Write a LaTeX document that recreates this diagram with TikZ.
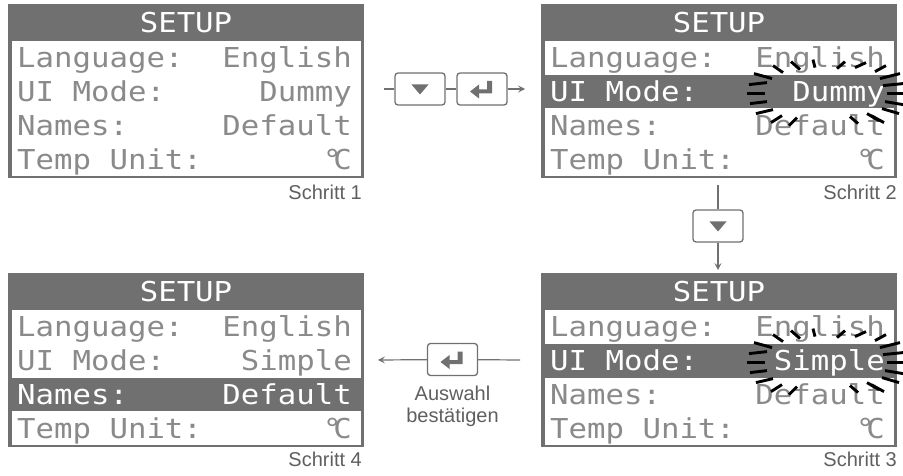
\documentclass[tikz,border=0pt]{standalone}
\usepackage{fontspec}
\setmainfont{Liberation Sans}
\newfontfamily\lcdfont[FakeStretch=1.12]{DejaVu Sans Mono}
\usetikzlibrary{arrows.meta}

\definecolor{lcdgray}{RGB}{112,112,112}
\definecolor{lcdtext}{RGB}{138,138,138}
\definecolor{linegray}{RGB}{112,112,112}
\definecolor{labelgray}{RGB}{95,95,95}

\tikzset{
  screenframe/.style={fill=lcdgray, anchor=north west, minimum width=356pt, minimum height=174pt, inner sep=0pt, outer sep=0pt},
  lcd/.style={font=\lcdfont\fontsize{27.4}{30}\selectfont, text=lcdtext, inner sep=0pt},
  keybox/.style={draw=linegray, line width=1.3pt, rounded corners=3pt, minimum width=50pt, minimum height=32pt, inner sep=0pt},
  conn/.style={draw=linegray, line width=1.2pt},
  arr/.style={conn, -{Stealth[length=7pt,width=7pt,inset=3pt]}},
  steplabel/.style={font=\fontsize{20}{22}\selectfont, text=labelgray, inner sep=0pt},
  flash/.style={line width=2.9pt, black},
  downsym/.pic={\fill[linegray] (-8.5,-4.5) -- (8.5,-4.5) -- (0,5.5) -- cycle;},
  entersym/.pic={\fill[linegray] (-12,2.5) -- (-3,-4.5) -- (-3,0.5) -- (5,0.5) -- (5,-8) -- (10,-8)
    -- (10,4.5) -- (-3,4.5) -- (-3,9.5) -- cycle;},
}

% #1 name, #2 x, #3 y, #4 highlighted row (0 = none), #5 UI mode value
\newcommand\lcdscreen[5]{%
  \begin{scope}[shift={(#2,#3)}]
    \node[screenframe] (#1) at (0,0) {};
    \fill[white] (4,37) rectangle (353,172);
    \ifnum#4>0
      \fill[lcdgray] (0,{37+33.75*(#4-1)}) rectangle (356,{37+33.75*#4});
    \fi
    \node[lcd, text=white] (#1-title) at (178,19) {SETUP};
    \foreach \r/\lbl/\val in {1/Language:/English, 2/UI Mode:/#5, 3/Names:/Default, 4/Temp Unit:/°\kern-0.3em C}{
      \node[lcd, anchor=base west] (#1-l\r) at (9,{37+33.75*(\r-0.5)+10}) {\ifnum\r=#4 \color{white}\fi\lbl};
      \node[lcd, anchor=base east] (#1-v\r) at (344,{37+33.75*(\r-0.5)+10}) {\ifnum\r=#4 \color{white}\fi\val};
    }
  \end{scope}}

% blinking marks round the value that is being changed
\newcommand\flashmarks[2]{%
  \begin{scope}[shift={(#1,#2)}]
    \foreach \a/\b/\c/\d in {-52/-28/-42/-21, -71/-20/-53/-15, -76/-9/-58/-11, -78/0/-60/0,
        -75/10/-58/8, -69/20/-52/16, -54/29/-43/22, -34/-32/-25/-24, -12/-34/-10/-26,
        12/-25/20/-32, 30/-26/41/-31, 50/-22/61/-28, 55/-15/75/-20, 58/-8/78/-10,
        62/0/79/0, 60/8/78/11, 57/15/74/20, 46/22/59/29, -36/32/-28/24, 25/23/33/30, 42/20/54/27}
      \draw[flash] (\a,\b) -- (\c,\d);
  \end{scope}}

\begin{document}
\begin{tikzpicture}[x=1pt, y=-1pt]
\useasboundingbox (0,0) rectangle (903,476);

% screens
\lcdscreen{scr1}{8}{4}{0}{Dummy}
\lcdscreen{scr2}{541}{4}{2}{Dummy}
\lcdscreen{scr3}{541}{273}{2}{Simple}
\lcdscreen{scr4}{8}{273}{3}{Simple}
\flashmarks{825}{93.6}
\flashmarks{825}{362.6}

\node[steplabel, anchor=base east] (step1) at (362,200) {Schritt 1};
\node[steplabel, anchor=base east] (step2) at (897,200) {Schritt 2};
\node[steplabel, anchor=base east] (step3) at (897,466) {Schritt 3};
\node[steplabel, anchor=base east] (step4) at (362,466) {Schritt 4};

% keys
\node[keybox] (key1) at (420,89) {};
\node[keybox] (key2) at (482,89) {};
\node[keybox] (key3) at (718,226) {};
\node[keybox] (key4) at (452.5,359.5) {};
\pic at (key1.center) {downsym};
\pic at (key2.center) {entersym};
\pic at (key3.center) {downsym};
\pic at (key4.center) {entersym};

\node[steplabel, anchor=north, align=center] (confirm) at (452.5,386) {Auswahl\\bestätigen};

% connectors
\coordinate (in1) at (384,89);
\coordinate (out1) at (525,89);
\draw[conn] (in1) -- (key1);
\draw[conn] (key1) -- (key2);
\draw[arr] (key2) -- (out1);

\coordinate (in2) at (718,185);
\coordinate (out2) at (718,270);
\draw[conn] (in2) -- (key3);
\draw[arr] (key3) -- (out2);

\coordinate (in3) at (520,360);
\coordinate (out3) at (378,360);
\draw[conn] (in3) -- (key4);
\draw[arr] (key4) -- (out3);
\end{tikzpicture}
\end{document}
